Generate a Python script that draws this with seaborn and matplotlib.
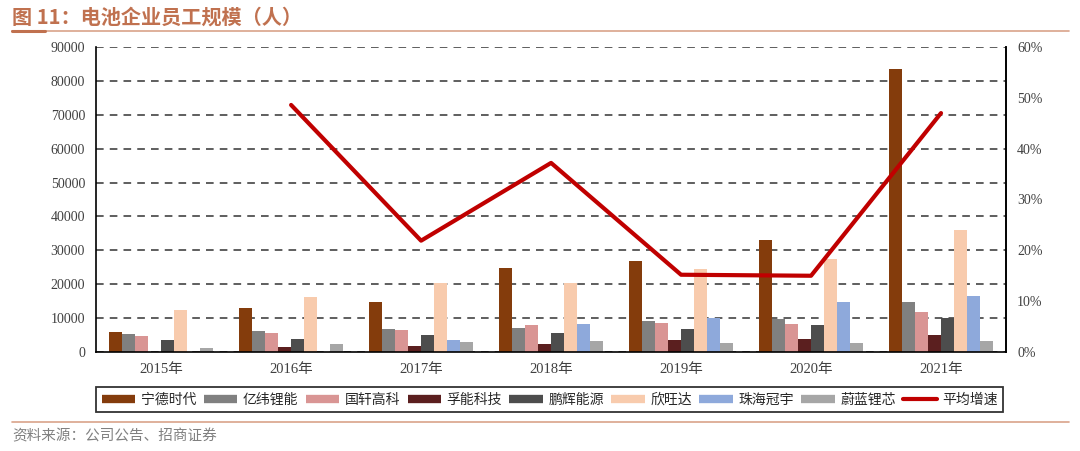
import numpy as np
import pandas as pd
import seaborn as sns
import matplotlib.pyplot as plt
from matplotlib.lines import Line2D

# data
years = ['2015年', '2016年', '2017年', '2018年', '2019年', '2020年', '2021年']
companies = ['宁德时代', '亿纬锂能', '国轩高科', '孚能科技', '鹏辉能源', '欣旺达', '珠海冠宇', '蔚蓝锂芯']
catl = [5800, 13000, 14700, 24800, 26750, 33000, 83600]
eve = [5300, 6100, 6700, 7000, 9150, 9750, 14750]
gotion = [4700, 5700, 6400, 7850, 8650, 8350, 11900]
farasis = [0, 1570, 1700, 2350, 3450, 3750, 4900]
greatpower = [3450, 3900, 5000, 5700, 6800, 7850, 10100]
sunwoda = [12400, 16100, 20500, 20500, 24400, 27450, 36100]
cosmx = [0, 0, 3500, 8350, 10100, 14650, 16400]
changhong = [1100, 2260, 2850, 3150, 2550, 2550, 3300]
avg_growth = [np.nan, 48.6, 21.9, 37.2, 15.2, 15.0, 47.0]

colors = ['#843C0C', '#808080', '#D99594', '#5B1F1F', '#4D4D4D', '#F8CBAD', '#8EA9DB', '#A6A6A6']
line_color = '#C00000'

series = [catl, eve, gotion, farasis, greatpower, sunwoda, cosmx, changhong]
df = pd.DataFrame({
    'year': np.tile(years, len(companies)),
    'company': np.repeat(companies, len(years)),
    'staff': np.concatenate(series),
})

sns.set_style('white')
plt.rcParams['font.family'] = ['Liberation Serif', 'Noto Sans CJK SC', 'DejaVu Sans']
plt.rcParams['axes.unicode_minus'] = False

fig = plt.figure(figsize=(10.8, 4.51), dpi=100)
ax = fig.add_axes([0.089, 0.2195, 0.8425, 0.6763])

sns.barplot(data=df, x='year', y='staff', hue='company', hue_order=companies,
            order=years, palette=colors, saturation=1, width=0.8, ax=ax,
            legend=False, linewidth=0)

ax.set_ylim(0, 90000)
ax.set_yticks(np.arange(0, 90001, 10000))
ax.set_xlim(-0.5, len(years) - 0.5)
ax.set_xlabel('')
ax.set_ylabel('')
ax.yaxis.grid(True, linestyle=(0, (5, 4)), color='#333333', linewidth=1.1)
ax.set_axisbelow(True)
ax.spines['top'].set_visible(False)
for s in ['left', 'bottom', 'right']:
    ax.spines[s].set_color('black')
    ax.spines[s].set_linewidth(1.2)
ax.tick_params(axis='both', length=0, labelsize=10, colors='#404040', pad=8)
for lab in ax.get_xticklabels():
    lab.set_fontsize(10.5)

ax2 = ax.twinx()
sns.lineplot(x=np.arange(len(years)), y=avg_growth, color=line_color, linewidth=3,
             ax=ax2)
ax2.set_ylim(0, 60)
ax2.set_yticks(np.arange(0, 61, 10))
ax2.set_yticklabels([f'{v}%' for v in range(0, 61, 10)])
ax2.tick_params(axis='y', length=0, labelsize=10, colors='#404040', pad=8)
ax2.spines['top'].set_visible(False)
ax2.spines['left'].set_visible(False)
ax2.spines['bottom'].set_visible(False)
ax2.spines['right'].set_color('black')
ax2.spines['right'].set_linewidth(1.2)
ax2.grid(False)

# legend below the plot
handles = [Line2D([0], [0], color=c, lw=6, solid_capstyle='butt') for c in colors]
handles.append(Line2D([0], [0], color=line_color, lw=3))
leg = fig.legend(handles, companies + ['平均增速'], loc='lower left',
                 bbox_to_anchor=(0.089, 0.086, 0.84, 0.054), mode='expand',
                 ncol=9, frameon=True, fancybox=False, handlelength=2.4,
                 handletextpad=0.4, columnspacing=0.8, borderaxespad=0,
                 prop={'family': ['Noto Sans CJK SC'], 'size': 10})
leg.get_frame().set_edgecolor('black')
leg.get_frame().set_linewidth(1.3)

# title and decorative rules
title_color = '#C0714F'
fig.text(0.011, 0.962, '图 11：电池企业员工规模（人）', color=title_color,
         fontsize=14.5, fontweight='bold', va='center', family=['Noto Sans CJK SC'])
fig.add_artist(Line2D([0.011, 0.99], [0.932, 0.932], color='#D9A38A', lw=1.2))
fig.add_artist(Line2D([0.011, 0.042], [0.932, 0.932], color=title_color, lw=2.2))
fig.add_artist(Line2D([0.011, 0.99], [0.064, 0.064], color='#D9A38A', lw=1.2))
fig.text(0.011, 0.033, '资料来源：公司公告、招商证券', color='#808080',
         fontsize=10.5, va='center', family=['Noto Sans CJK SC'])

fig.savefig('out.png', dpi=100)
